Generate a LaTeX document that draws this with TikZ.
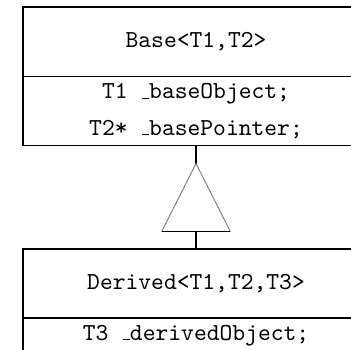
\documentclass[tikz,border=0pt]{standalone}
\usepackage{tikz}
\usetikzlibrary{positioning,calc}
\newcommand{\usc}{\leavevmode\kern.06em\vbox{\hrule width.3em}}

\begin{document}
\begin{tikzpicture}[
  classname/.style={rectangle, draw=black, line width=0.7pt, minimum width=141.9pt,
               minimum height=28.5pt, align=center, inner sep=0pt, outer sep=0pt,
               font=\ttfamily},
  classattr/.style={rectangle, draw=black, line width=0.7pt, minimum width=141.9pt,
               align=center, inner sep=0pt, outer sep=0pt, font=\ttfamily},
  inherit/.style={draw=black, line width=0.7pt},
  node distance=0pt
]
  % visible window (right and bottom edges cut off)
  \clip (-9.43pt,2.87pt) rectangle (134.5pt,-140.6pt);
  \node[classname, anchor=north west] (base) at (0,0) {Base<T1,T2>};
  \node[classattr, minimum height=28.3pt, below=of base] (baseattr)
    {T1 \usc baseObject;\\[3pt]T2* \usc basePointer;};
  \coordinate[below=7.4pt of baseattr] (tip);
  \coordinate (tl) at ($(tip)+(-14.1pt,-27.9pt)$);
  \coordinate (tr) at ($(tip)+(14.1pt,-27.9pt)$);
  \coordinate (tb) at ($(tl)!0.5!(tr)$);
  \node[classname, below=7pt of tb] (derived) {Derived<T1,T2,T3>};
  \node[classattr, minimum height=14pt, below=of derived] (derivedattr)
    {T3 \usc derivedObject;};
  \draw[inherit] (baseattr.south) -- (tip);
  \draw[gray, line width=0.4pt] (tl) -- (tip) -- (tr);
  \draw[inherit] (tl) -- (tr);
  \draw[inherit] (tb) -- (derived.north);
\end{tikzpicture}
\end{document}
